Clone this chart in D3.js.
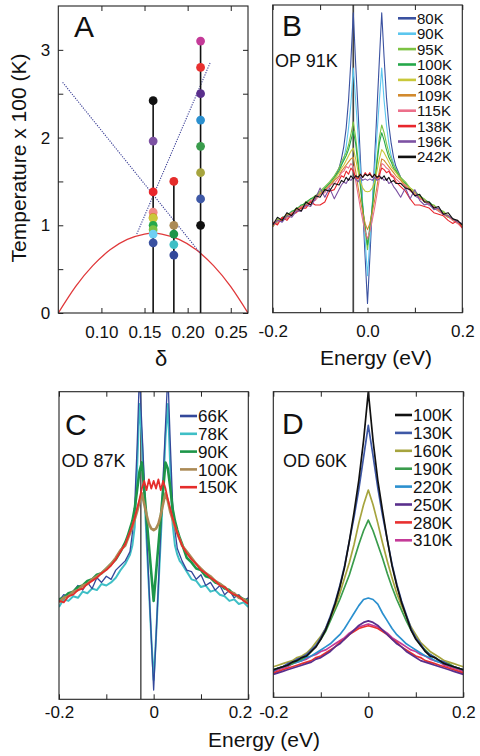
<!DOCTYPE html>
<html><head><meta charset="utf-8">
<script src="https://cdn.jsdelivr.net/npm/d3@7"></script>
<style>
body{margin:0;background:#fff}
svg{display:block}
text{font-family:"Liberation Sans",Arial,Helvetica,sans-serif;fill:#111}
</style>
</head><body><svg id="c" width="480" height="756"></svg>
<script>
// ---------------- Panel A data ----------------
const dopings = [0.16, 0.184, 0.215];
const opTemps = [0.80, 0.90, 0.95, 1.00, 1.08, 1.09, 1.15, 1.38, 1.96, 2.42];
const od87Temps = [0.66, 0.78, 0.90, 1.00, 1.50];
const od60Temps = [1.00, 1.30, 1.60, 1.90, 2.20, 2.50, 2.80, 3.10];
const domeDoping = [0.05, 0.07, 0.09, 0.11, 0.13, 0.15, 0.16, 0.17, 0.19, 0.21, 0.23, 0.25, 0.27];
const domeTc = [0.0, 0.30, 0.54, 0.72, 0.84, 0.90, 0.91, 0.90, 0.84, 0.72, 0.54, 0.30, 0.0];
const guide1Doping = [0.055, 0.214];
const guide1T = [2.63, 0.69];
const guide2Doping = [0.141, 0.226];
const guide2T = [0.90, 2.85];
const xTicksA = [0.10, 0.15, 0.20, 0.25];
const yTicksA = [0, 0.5, 1, 1.5, 2, 2.5, 3];

// ---------------- Panel B data (OP 91K) ----------------
const energyBC = [-0.20,-0.19,-0.18,-0.17,-0.16,-0.15,-0.14,-0.13,-0.12,-0.11,-0.10,-0.09,-0.08,-0.07,
  -0.060,-0.055,-0.050,-0.045,-0.040,-0.035,-0.030,-0.025,-0.020,-0.015,-0.010,-0.005,0,0.005,0.010,0.015,0.020,0.025,0.030,0.035,0.040,0.045,0.050,0.055,0.060,
  0.07,0.08,0.09,0.10,0.11,0.12,0.13,0.14,0.15,0.16,0.17,0.18,0.19,0.20];
const labelsB = ["80K","90K","95K","100K","108K","109K","115K","138K","196K","242K"];
const colorsB = ["#3a51a0","#5cc6ee","#7cc243","#25a84a","#c9c83a","#d28a2e","#ec6f8a","#e8262c","#7d52a3","#111111"];
const b80 = [28,30,29.5,31.5,32,33.5,34,35.5,36,37.5,38.5,40,41.5,43.5,
  47,50,54,60,69,82,97.5,81,66,50,34,18,3,18,34,50,66,82,97.5,83,70,61,55,50.5,47.5,
  44,41,40,38,37,36.5,35,34,33,32,31.5,30,29.5,28.5];
const b90 = [29,29.5,30.5,31,32.5,33,34.5,35,36.5,37,38.5,39.5,41,43,
  46,48,50,54,60,68,79.5,69,58,46.5,35,23.5,12,23.5,35,46.5,58,69,79.5,69,61,55,51,48.5,46.5,
  43.5,41.5,40,38.5,37.5,36,35,34,33.5,32,31,30.5,29.5,28.5];
const b95 = [28,30.5,30,32,32.5,34,34.5,36,37,38,39.5,41,42.5,44.5,
  47,49,50.5,52,54.5,58,62,57,50,42,34,27,20.5,27,34,42,50,57,61,58.5,55,52,50,48,46.5,
  44,42.5,40.5,39.5,38,37,35.5,35,33.5,33,31.5,30.5,29.5,28.5];
const b100 = [29,29,31,31.5,33,33.5,35,35.5,37,37.5,39,40.5,42,44,
  46,48,49.5,51,53,56,59,55,48,41,34,28,22,28,34,41,48.5,55,58.5,56,53,50.5,49,47,46,
  43.5,42,40,39,38,36.5,36,34.5,33.5,32.5,31.5,30.5,29.5,28];
const b108 = [28.5,29.5,30.5,31,32.5,33,34,35,36.5,37,39,40,41.5,43.5,
  45.5,47,48,49.5,51,52.5,53.5,50,46,42.5,40.5,39.5,39.3,39.5,40.5,42.5,46,50,53,52,50.5,49,47.5,46.5,45.5,
  43.5,41.5,40.5,39,37.5,36.5,35.5,34.5,33,32.5,31.5,30,29.5,28];
const b109 = [28,30,30,32,32,33.5,34.5,35,36,37.5,38.5,40,41,43,
  44.5,46,47,48,49,50,50.5,46,41,36.5,32.5,29,27,29,32.5,36.5,41,46,50,49.5,48.5,47.5,46.5,45.5,44.5,
  43,41,40,38.5,37.5,36,35.5,34,33.5,32,31,30.5,29,28.5];
const b115 = [29,29,31,30.5,32.5,33,34.5,34.5,36.5,36.5,38.5,39,41.5,42,
  44,45.5,46,47.5,47,48.5,47.5,43,38.5,34,30,26.5,24,26.5,30,34,38.5,43.5,48.5,48,47,46.5,45,44.5,43.5,
  42,41.5,39.5,38.5,37,36.5,35,34.5,33,32,31.5,30,29,27.5];
const b138 = [29.5,28.5,31,30,32,32.5,34,34,36,35,35,36,39.5,40,
  43,44.5,44,46,45,47,46,44,43.5,45,44,45.5,44.5,45.5,44,45,43.5,45,47,46.5,45.5,46,44.5,44,42.5,
  41,39.5,37,35,35,34.5,34,32.5,32,31.5,30,29,30,27.5];
const b196 = [28.5,30,29.5,31.5,31,33,33,35,34.5,37,40.5,37.5,40.5,37,
  40,41.5,42.5,42,43.5,43,44,43.5,42.5,44,43,43.5,43,43.5,43,44,43,43.5,44,43,43.5,42,42.5,41,40,
  37.5,40.5,37,40,36.5,35,35.5,33.5,34,32,31.5,30.5,29.5,29];
const b242 = [28.5,31,30,32.5,31.5,34,33,36,35,38,37.5,40,39.5,42,
  41.5,43,42.5,44,43,44.5,43.5,44.5,44,45,44,45,44.5,45,44,45,44,44.5,43.5,44.5,43,44,42.5,43,42,
  42,40.5,40,38,38.5,36,36,34,34.5,32,32.5,30.5,30,28.5];
const seriesB = [b80,b90,b95,b100,b108,b109,b115,b138,b196,b242];

// ---------------- Panel C data (OD 87K) ----------------
const labelsC = ["66K","78K","90K","100K","150K"];
const colorsC = ["#33489a","#3fbfc6","#1d9649","#ab8a55","#e52d2b"];
const widthsC = [1.3, 2, 2.6, 2.6, 1.8];
const c66 = [32,34,33.5,35,37,35.5,38,36,39.5,38,40,39,42,43.5,
  45,46.5,48,54,63,82,106,89,72,54.5,37,20,3,20,37,54.5,72,89,106,84,64,55,49,47,45,
  42,41.5,39,40.5,37,38,35.5,37,34,35.5,33,34,32,33];
const c78 = [30,32.5,32,33.5,33,35,34.5,36,35.5,37.5,37,38,39.5,42,
  44,45.5,47,50,56,75,96,85,68,52,36,20,6.3,20,36,52,68,85,96,76,57,50,47,45,44,
  41.5,39,38.5,36.5,37,35,35.5,34,33.5,32,32.5,31,31.5,30];
const c90 = [32.5,33,34.5,35,36.5,37,38.5,39,40.5,41,42.5,44,45.5,48,
  51,53,55.5,58,62,68,74,77,68,59,50,41,32,41,50,59,68,77,75,69,62,58,55,52.5,50.5,
  46,44.5,42.5,42,40,39.5,38,37.5,36,35.5,34,33.5,32.5,32];
const c100 = [31.5,33,33.5,35,35.5,37,37.5,39,40,41,42.5,44,46,48.5,
  50,52,54,56,58.5,61,64,67,63.5,60,57,55.5,55,55.5,57,60,63.5,67,64.5,61,58.5,56,54,52,50,
  48,46,44,42.5,41,40,38.5,37.5,36.5,35,34.5,33,32.5,31.5];
const c150 = [32,31.5,33.5,34,35.5,36,37.5,38.5,39.5,41,42,43.5,45.5,48,
  50.5,52.5,54.5,56.5,59,62,65,68.5,71,68,71.5,68.5,71,68.5,71.5,68,71,68.5,65,62,59,56.5,54,52,50,
  47.5,45.5,44,42,41,39.5,38.5,37,36.5,35,34,33.5,32,31];
const seriesC = [c66,c78,c90,c100,c150];
const drawOrderC = [1,0,2,3,4];

// ---------------- Panel D data (OD 60K) ----------------
const energyD = [-0.20,-0.19,-0.18,-0.17,-0.16,-0.15,-0.14,-0.13,-0.12,-0.11,-0.10,-0.09,-0.08,-0.07,-0.06,-0.05,-0.04,-0.03,-0.02,-0.01,0,
  0.01,0.02,0.03,0.04,0.05,0.06,0.07,0.08,0.09,0.10,0.11,0.12,0.13,0.14,0.15,0.16,0.17,0.18,0.19,0.20];
const labelsD = ["100K","130K","160K","190K","220K","250K","280K","310K"];
const colorsD = ["#111111","#3e58a6","#a6a43e","#3a9c4c","#2b90cf","#5a2f8c","#e8302f","#c43a98"];
const d100 = [9,9.5,10,10.5,11.5,12,13,13.5,15,16.5,19,22,26,30.5,36,42.5,51,60.5,71,84,100,
  84,71,61,51.5,43,36.5,31,26.5,22,19,17,15,13.5,13,12,11,10.5,10,9.5,9];
const d130 = [8.5,9.5,10,11,11.5,12.5,13,14,15.5,17,19.5,22.5,26.5,31,36.5,43,51,59,68,78.5,89,
  79,68.5,59.5,51.5,43.5,37,31.5,27,22.5,19.5,17.5,15,14,13,12,11.5,10.5,10,9.5,9];
const d160 = [10,10.5,11,11.5,12,13,13.5,14.5,16,18,20,22.5,26,29.5,34,39,44,50,57,63,67.8,
  63,57,50.5,44.5,39,34,30,26.5,23,20.5,18,16.5,15,14,13,12,11.5,11,10.5,10];
const d190 = [9,9.5,10,10.5,11,12,12.5,13.5,15,17,19,21.5,25,28.5,32,36,40,45,50,54.5,58,
  54.5,50,45.5,40.5,36,32,28.5,25,22,19.5,17,15.5,14,13,12,11.5,11,10,9.5,9];
const d220 = [9,9.5,10,10.5,11,11.5,12,13,13.5,14.5,15.5,16.5,17.5,19,20.5,22.5,25,27.5,30,32,32.5,
  32,30.5,27.5,25,22.5,20.5,19,17.5,16.5,15.5,14.5,13.5,13,12,11.5,11,10.5,10,9.5,9];
const d250 = [7.5,8,8.5,9,9.5,10,10.5,11,11.5,12.5,13,14,15,16.5,17.5,19,20.5,22,23.5,24.5,25,
  24.5,23.5,22,20.5,19,17.5,16.5,15,14,13,12,11.5,11,10.5,10,9.5,9,8.5,8,7.5];
const d280 = [8,8.5,9,9.5,10,10.5,11,11.5,12,13,13.5,14.5,15.5,16.5,18,19,20.5,21.5,22.5,23,23.4,
  23,22.5,21.5,20.5,19,18,16.5,15.5,14.5,13.5,13,12,11.5,11,10.5,10,9.5,9,8.5,8];
const d310 = [8.5,9,9.5,10,11,11.5,12,12.5,13.5,14,15,15.5,16.5,17.5,18.5,19.5,21,22,23,23.5,24,
  23.5,23,22,21,19.5,18.5,17.5,16.5,15.5,15,14,13.5,12.5,12,11.5,10.5,10,9.5,9,8.5];
const seriesD = [d100,d130,d160,d190,d220,d250,d280,d310];

const energyTicks = [-0.2,-0.1,0,0.1,0.2];
const tickLabelsB = ["-0.2","","0.0","","0.2"];
const tickLabelsCD = ["-0.2","","0","","0.2"];
const gapLineB = -0.03, gapLineC = -0.027;

// ---------------- drawing ----------------
const svg = d3.select("#c");
const FS = 17;

function styleAxis(g){
  g.select(".domain").remove();
  g.selectAll(".tick line").attr("stroke","#222").attr("stroke-width",1);
  g.selectAll(".tick text").attr("font-size",FS).attr("fill","#111")
    .attr("font-family",'"Liberation Sans",Arial,sans-serif');
}
function frameRect(x, y){
  svg.append("rect").attr("x",x.range()[0]).attr("y",y.range()[1])
    .attr("width",x.range()[1]-x.range()[0]).attr("height",y.range()[0]-y.range()[1])
    .attr("fill","none").attr("stroke","#222").attr("stroke-width",1.1);
}
function clip(id, x, y){
  svg.append("clipPath").attr("id",id).append("rect")
    .attr("x",x.range()[0]).attr("y",y.range()[1])
    .attr("width",x.range()[1]-x.range()[0]).attr("height",y.range()[0]-y.range()[1]);
}

// ===== Panel A =====
const xA = d3.scaleLinear().domain([0.05,0.27]).range([58.3,248]);
const yA = d3.scaleLinear().domain([0,3.5]).range([313,6]);
clip("clipA", xA, yA);
const gA = svg.append("g").attr("clip-path","url(#clipA)");
gA.append("path").datum(domeTc)
  .attr("d", d3.line().x((d,i)=>xA(domeDoping[i])).y(d=>yA(d)).curve(d3.curveNatural))
  .attr("fill","none").attr("stroke","#e0393b").attr("stroke-width",1.3);
[[guide1Doping,guide1T],[guide2Doping,guide2T]].forEach(([p,t])=>{
  gA.append("line").attr("x1",xA(p[0])).attr("y1",yA(t[0])).attr("x2",xA(p[1])).attr("y2",yA(t[1]))
    .attr("stroke","#3b3f96").attr("stroke-width",1.1).attr("stroke-dasharray","1.2,1.3");
});
const setsA = [
  {p:dopings[0], t:opTemps, c:colorsB},
  {p:dopings[1], t:od87Temps, c:colorsC},
  {p:dopings[2], t:od60Temps, c:colorsD}
];
setsA.forEach(s=>{
  svg.append("line").attr("x1",xA(s.p)).attr("x2",xA(s.p))
    .attr("y1",yA(0)).attr("y2",yA(d3.max(s.t))).attr("stroke","#111").attr("stroke-width",1.6);
});
setsA.forEach(s=>{
  const idx = d3.range(s.t.length).sort((a,b)=>s.t[b]-s.t[a]);
  idx.forEach(i=>{
    svg.append("circle").attr("cx",xA(s.p)).attr("cy",yA(s.t[i])).attr("r",4.4)
      .attr("fill", s.c[i] === "#ec6f8a" ? "#f08a86" : (s.c[i]==="#5cc6ee" ? "#6fcff3" : s.c[i]));
  });
});
frameRect(xA, yA);
svg.append("g").attr("transform",`translate(0,${yA(0)})`)
  .call(d3.axisBottom(xA).tickValues(xTicksA).tickSize(-5).tickPadding(12.5).tickFormat(d3.format(".2f"))).call(styleAxis);
svg.append("g").attr("transform",`translate(0,${yA(3.5)})`)
  .call(d3.axisTop(xA).tickValues(xTicksA).tickSize(-5).tickFormat("")).call(styleAxis);
svg.append("g").attr("transform",`translate(${xA(0.05)},0)`)
  .call(d3.axisLeft(yA).tickValues(yTicksA).tickSize(-5).tickPadding(8).tickFormat(d=>Number.isInteger(d)?d:"")).call(styleAxis);
svg.append("g").attr("transform",`translate(${xA(0.27)},0)`)
  .call(d3.axisRight(yA).tickValues(yTicksA).tickSize(-5).tickFormat("")).call(styleAxis);
svg.append("text").attr("transform","translate(19,158) rotate(-90)").attr("text-anchor","middle")
  .attr("dy","0.35em").attr("font-size",21).text("Temperature x 100 (K)");
svg.append("text").attr("x",161).attr("y",366).attr("text-anchor","middle").attr("font-size",22).text("δ");
svg.append("text").attr("x",74).attr("y",37).attr("font-size",30).text("A");

// ===== generic spectra panel =====
function spectraPanel(opt){
  const x = d3.scaleLinear().domain([-0.2,0.2]).range(opt.xr);
  const y = d3.scaleLinear().domain([0,100]).range(opt.yr);
  clip(opt.id, x, y);
  const g = svg.append("g").attr("clip-path",`url(#${opt.id})`);
  if (opt.gapLine !== undefined) {
    g.append("line").attr("x1",x(opt.gapLine)).attr("x2",x(opt.gapLine))
      .attr("y1",y(0)).attr("y2",y(100)).attr("stroke",opt.gapColor).attr("stroke-width",opt.gapWidth);
  }
  const line = d3.line().x((d,i)=>x(opt.energy[i])).y(d=>y(d));
  opt.order.forEach(k=>{
    g.append("path").datum(opt.series[k]).attr("d",line)
      .attr("fill","none").attr("stroke",opt.colors[k])
      .attr("stroke-width",opt.widths? opt.widths[k] : opt.width)
      .attr("stroke-linejoin","round");
  });
  frameRect(x, y);
  const ax = svg.append("g").attr("transform",`translate(0,${y(0)})`)
    .call(d3.axisBottom(x).tickValues(energyTicks).tickSize(-5).tickPadding(opt.tickPad)
      .tickFormat((d,i)=>opt.tickLabels[i])).call(styleAxis);
  if (opt.lastLabelShift) {
    ax.selectAll(".tick text").filter((d,i)=>i===4).attr("text-anchor","end").attr("dx",opt.lastLabelShift);
  }
  svg.append("g").attr("transform",`translate(0,${y(100)})`)
    .call(d3.axisTop(x).tickValues(energyTicks).tickSize(-5).tickFormat("")).call(styleAxis);
  // legend
  opt.labels.forEach((lab,i)=>{
    const ly = opt.legY + i*opt.legStep;
    svg.append("line").attr("x1",opt.legX).attr("x2",opt.legX+opt.legW).attr("y1",ly).attr("y2",ly)
      .attr("stroke",opt.colors[i]).attr("stroke-width",2.6);
    svg.append("text").attr("x",opt.legX+opt.legW+1).attr("y",ly).attr("dy","0.36em")
      .attr("font-size",opt.legFont).text(lab);
  });
  svg.append("text").attr("x",opt.letter[0]).attr("y",opt.letter[1]).attr("font-size",30).text(opt.letter[2]);
  svg.append("text").attr("x",opt.sub[0]).attr("y",opt.sub[1]).attr("font-size",18).text(opt.sub[2]);
  return {x,y};
}

// ===== Panel B =====
spectraPanel({id:"clipB", xr:[272.7,462.3], yr:[312.7,5], energy:energyBC, series:seriesB,
  colors:colorsB, width:1.1, order:d3.range(10), gapLine:gapLineB, gapColor:"#444", gapWidth:1.7,
  tickLabels:tickLabelsB, tickPad:12.5,
  labels:labelsB, legX:398, legW:18, legY:18.3, legStep:15.4, legFont:15,
  letter:[282,36,"B"], sub:[275,66.5,"OP 91K"]});
svg.append("text").attr("x",376).attr("y",365).attr("text-anchor","middle").attr("font-size",21).text("Energy (eV)");

// ===== Panel C =====
spectraPanel({id:"clipC", xr:[59,248.3], yr:[699.3,391.7], energy:energyBC, series:seriesC,
  colors:colorsC, widths:widthsC, order:drawOrderC, gapLine:gapLineC, gapColor:"#111", gapWidth:1.1,
  tickLabels:tickLabelsCD, tickPad:6.5, lastLabelShift:3.5,
  labels:labelsC, legX:180, legW:17, legY:416, legStep:17.8, legFont:17,
  letter:[65,435,"C"], sub:[61.5,466.5,"OD 87K"]});

// ===== Panel D =====
spectraPanel({id:"clipD", xr:[273.3,463.3], yr:[697.3,391.7], energy:energyD, series:seriesD,
  colors:colorsD, width:1.7, order:[7,6,5,4,3,2,1,0],
  tickLabels:tickLabelsCD, tickPad:8.5,
  labels:labelsD, legX:395, legW:17, legY:415, legStep:17.9, legFont:17,
  letter:[282,434,"D"], sub:[283,467,"OD 60K"]});
svg.append("text").attr("x",264).attr("y",747).attr("text-anchor","middle").attr("font-size",21).text("Energy (eV)");
</script></body></html>
